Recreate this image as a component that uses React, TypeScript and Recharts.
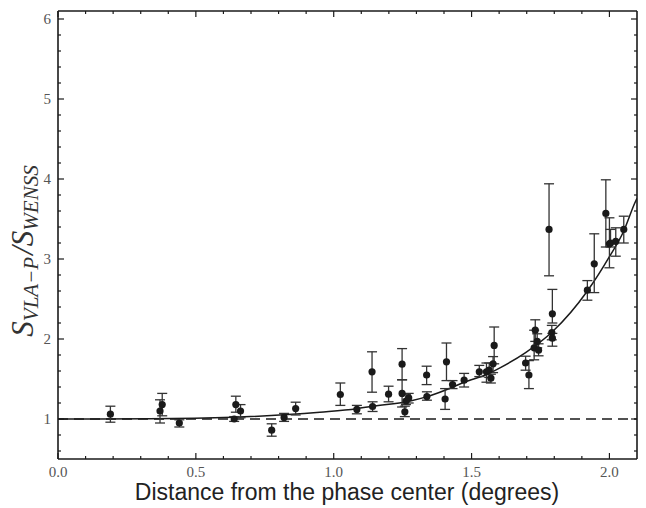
import React from "react";
import { ComposedChart, ErrorBar, Line, ReferenceLine, Scatter, XAxis, YAxis } from "recharts";

// measured points: distance (deg), flux ratio, lower / upper end of the error bar
const pointX = [
  0.19, 0.37, 0.378, 0.44, 0.639, 0.645, 0.662, 0.775, 0.82, 0.862,
  1.024, 1.084, 1.139, 1.141, 1.199, 1.248, 1.248, 1.258, 1.262, 1.272,
  1.337, 1.338, 1.409, 1.404, 1.431, 1.473, 1.528, 1.554, 1.564, 1.57,
  1.582, 1.578, 1.696, 1.708, 1.727, 1.731, 1.738, 1.743, 1.781, 1.793,
  1.791, 1.793, 1.92, 1.945, 1.987, 2.0, 2.004, 2.023, 2.052,
];
const pointY = [
  1.06, 1.1, 1.18, 0.95, 1.0, 1.18, 1.1, 0.86, 1.02, 1.13,
  1.306, 1.12, 1.59, 1.156, 1.31, 1.685, 1.32, 1.09, 1.225, 1.265,
  1.55, 1.28, 1.715, 1.25, 1.43, 1.485, 1.59, 1.59, 1.61, 1.51,
  1.92, 1.69, 1.7, 1.55, 1.89, 2.11, 1.97, 1.86, 3.37, 2.315,
  2.08, 2.01, 2.61, 2.94, 3.57, 3.19, 3.2, 3.22, 3.37,
];
const errLow = [
  0.96, 0.95, 1.04, 0.9, 0.97, 1.085, 1.015, 0.785, 0.97, 1.05,
  1.17, 1.065, 1.335, 1.094, 1.215, 1.49, 1.15, 1.03, 1.18, 1.2,
  1.43, 1.235, 1.48, 1.12, 1.38, 1.4, 1.53, 1.46, 1.52, 1.45,
  1.69, 1.58, 1.61, 1.38, 1.74, 1.97, 1.89, 1.79, 2.79, 2.2,
  1.99, 1.91, 2.485, 2.58, 3.15, 2.89, 3.15, 3.035, 3.2,
];
const errHigh = [
  1.16, 1.24, 1.32, 0.99, 1.03, 1.285, 1.18, 0.94, 1.07, 1.21,
  1.45, 1.17, 1.84, 1.215, 1.41, 1.88, 1.49, 1.16, 1.31, 1.32,
  1.66, 1.34, 1.95, 1.38, 1.48, 1.57, 1.67, 1.7, 1.7, 1.56,
  2.15, 1.78, 1.785, 1.73, 2.11, 2.24, 2.065, 1.94, 3.94, 2.62,
  2.17, 2.07, 2.73, 3.315, 3.99, 3.515, 3.37, 3.39, 3.535,
];

// fitted curve
const curveX = [0, 0.33, 0.635, 0.95, 1.083, 1.14, 1.27, 1.339, 1.433, 1.473, 1.554, 1.603, 1.696, 1.793, 1.92, 2.0, 2.052, 2.092, 2.1];
const curveY = [1.0, 1.003, 1.022, 1.085, 1.128, 1.16, 1.22, 1.28, 1.4, 1.46, 1.556, 1.64, 1.83, 2.09, 2.6, 3.03, 3.35, 3.7, 3.76];

const xTicks = [0, 0.1, 0.2, 0.3, 0.4, 0.5, 0.6, 0.7, 0.8, 0.9, 1.0, 1.1, 1.2, 1.3, 1.4, 1.5, 1.6, 1.7, 1.8, 1.9, 2.0];
const yTicks = [
  0.6, 0.8, 1.0, 1.2, 1.4, 1.6, 1.8, 2.0, 2.2, 2.4, 2.6, 2.8, 3.0, 3.2, 3.4, 3.6, 3.8,
  4.0, 4.2, 4.4, 4.6, 4.8, 5.0, 5.2, 5.4, 5.6, 5.8, 6.0,
];

const points = pointX.map((x, i) => ({
  x,
  y: pointY[i],
  err: [pointY[i] - errLow[i], errHigh[i] - pointY[i]],
}));
const curve = curveX.map((x, i) => ({ x, y: curveY[i] }));

const INK = "#1a1a1a";
const TICK_FONT = "'Liberation Serif', 'DejaVu Serif', serif";

const isMajorX = (v: number) => Math.abs(v * 2 - Math.round(v * 2)) < 1e-6;
const isMajorY = (v: number) => Math.abs(v - Math.round(v)) < 1e-6;

function BottomTick({ x, y, payload }: any) {
  const major = isMajorX(payload.value);
  return (
    <g>
      <line x1={x} x2={x} y1={y} y2={y - (major ? 6 : 3)} stroke={INK} strokeWidth={1.2} />
      {major && (
        <text x={x} y={y + 18} textAnchor="middle" fontFamily={TICK_FONT} fontSize={15} fill="#555">
          {payload.value.toFixed(1)}
        </text>
      )}
    </g>
  );
}

function TopTick({ x, y, payload }: any) {
  const major = isMajorX(payload.value);
  return <line x1={x} x2={x} y1={y} y2={y + (major ? 6 : 3)} stroke={INK} strokeWidth={1.2} />;
}

function LeftTick({ x, y, payload }: any) {
  const major = isMajorY(payload.value);
  return (
    <g>
      <line x1={x} x2={x + (major ? 6 : 3)} y1={y} y2={y} stroke={INK} strokeWidth={1.2} />
      {major && (
        <text x={x - 7} y={y + 5} textAnchor="end" fontFamily={TICK_FONT} fontSize={15} fill="#555">
          {Math.round(payload.value)}
        </text>
      )}
    </g>
  );
}

function RightTick({ x, y, payload }: any) {
  const major = isMajorY(payload.value);
  return <line x1={x} x2={x - (major ? 6 : 3)} y1={y} y2={y} stroke={INK} strokeWidth={1.2} />;
}

function Dot({ cx, cy }: any) {
  return <circle cx={cx} cy={cy} r={3.6} fill={INK} />;
}

const frame = { stroke: INK, strokeWidth: 1.6 };

export default function App() {
  return (
    <div style={{ position: "absolute", left: 0, top: 0, width: 646, height: 508, background: "#fff" }}>
      <ComposedChart width={646} height={508} margin={{ top: 10, right: 8, bottom: 1, left: 0 }}>
        <XAxis
          xAxisId="b"
          type="number"
          dataKey="x"
          domain={[0, 2.1]}
          ticks={xTicks}
          interval={0}
          allowDataOverflow
          height={48}
          tickSize={0}
          tickMargin={0}
          tickLine={false}
          axisLine={frame}
          tick={<BottomTick />}
        />
        <XAxis
          xAxisId="t"
          orientation="top"
          type="number"
          dataKey="x"
          domain={[0, 2.1]}
          ticks={xTicks}
          interval={0}
          allowDataOverflow
          height={1}
          tickSize={0}
          tickMargin={0}
          tickLine={false}
          axisLine={frame}
          tick={<TopTick />}
        />
        <YAxis
          yAxisId="l"
          type="number"
          dataKey="y"
          domain={[0.5, 6.1]}
          ticks={yTicks}
          interval={0}
          allowDataOverflow
          width={58}
          tickSize={0}
          tickMargin={0}
          tickLine={false}
          axisLine={frame}
          tick={<LeftTick />}
        />
        <YAxis
          yAxisId="r"
          orientation="right"
          type="number"
          dataKey="y"
          domain={[0.5, 6.1]}
          ticks={yTicks}
          interval={0}
          allowDataOverflow
          width={1}
          tickSize={0}
          tickMargin={0}
          tickLine={false}
          axisLine={frame}
          tick={<RightTick />}
        />
        <ReferenceLine xAxisId="b" yAxisId="l" y={1} stroke={INK} strokeWidth={1.3} strokeDasharray="10 6" />
        <Line
          xAxisId="b"
          yAxisId="l"
          data={curve}
          dataKey="y"
          type="monotone"
          stroke={INK}
          strokeWidth={1.5}
          dot={false}
          isAnimationActive={false}
        />
        <Scatter
          xAxisId="b"
          yAxisId="l"
          data={points}
          dataKey="y"
          shape={<Dot />}
          isAnimationActive={false}
        >
          <ErrorBar dataKey="err" direction="y" width={5} stroke="#333" strokeWidth={1.3} isAnimationActive={false} />
        </Scatter>
      </ComposedChart>
      <svg width={646} height={508} style={{ position: "absolute", left: 0, top: 0, pointerEvents: "none" }}>
        <text
          x={347}
          y={500}
          textAnchor="middle"
          fontFamily="'Liberation Sans', Arial, sans-serif"
          fontSize={23}
          fill="#222"
        >
          Distance from the phase center (degrees)
        </text>
        <text
          transform="translate(33, 251) rotate(-90)"
          textAnchor="middle"
          fontFamily={TICK_FONT}
          fontStyle="italic"
          fontSize={31}
          fill="#333"
        >
          S<tspan fontSize={21} dy={5}>VLA−P</tspan>
          <tspan fontSize={31} dy={-5} dx={2}>/S</tspan>
          <tspan fontSize={21} dy={5}>WENSS</tspan>
        </text>
      </svg>
    </div>
  );
}
